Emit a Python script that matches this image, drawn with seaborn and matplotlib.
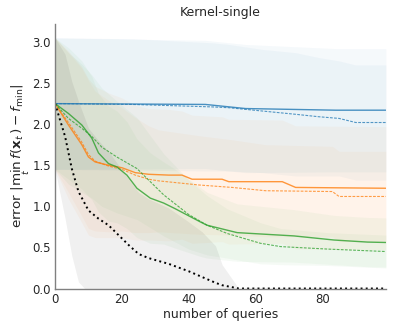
import numpy as np
import pandas as pd
import matplotlib
matplotlib.use("Agg")
import matplotlib.pyplot as plt
import seaborn as sns

# punkty (x = liczba zapytan)
black_x = [0, 3, 5, 7, 10, 13, 16, 19, 22, 25, 28, 34, 40, 44, 48, 50, 55, 99]
black_y = [2.25, 1.85, 1.46, 1.18, 0.95, 0.85, 0.77, 0.65, 0.53, 0.42, 0.37, 0.30, 0.21, 0.14, 0.07, 0.04, 0.0, 0.0]
black_sd = [0.8, 1.0, 1.06, 1.1, 1.0, 0.95, 0.9, 0.85, 0.8, 0.75, 0.72, 0.68, 0.6, 0.55, 0.45, 0.25, 0.0, 0.0]

blue_x = [0, 45, 57, 84, 99]
blue_y = [2.25, 2.24, 2.19, 2.17, 2.17]
blue_sd = [0.8, 0.78, 0.78, 0.75, 0.75]

blue2_x = [0, 23, 47, 52, 62, 72, 79, 85, 90, 99]
blue2_y = [2.25, 2.24, 2.21, 2.20, 2.16, 2.12, 2.09, 2.07, 2.02, 2.02]
blue2_sd = [0.8, 0.8, 0.78, 0.77, 0.75, 0.75, 0.72, 0.7, 0.7, 0.7]

orange_x = [0, 4, 8, 10, 12, 16, 20, 24, 28, 34, 38, 41, 50, 52, 68, 72, 99]
orange_y = [2.25, 1.99, 1.75, 1.60, 1.54, 1.50, 1.47, 1.41, 1.39, 1.38, 1.38, 1.33, 1.33, 1.30, 1.30, 1.23, 1.22]
orange_sd = [0.8, 0.9, 0.95, 0.95, 0.92, 0.88, 0.85, 0.82, 0.8, 0.8, 0.78, 0.78, 0.76, 0.76, 0.75, 0.75, 0.75]

orange2_x = [0, 4, 8, 10, 12, 16, 20, 24, 28, 31, 43, 53, 63, 83, 85, 99]
orange2_y = [2.25, 2.02, 1.78, 1.63, 1.55, 1.49, 1.45, 1.38, 1.33, 1.31, 1.26, 1.23, 1.19, 1.18, 1.12, 1.12]
orange2_sd = [0.8, 0.85, 0.9, 0.9, 0.85, 0.8, 0.75, 0.7, 0.65, 0.62, 0.6, 0.58, 0.56, 0.55, 0.55, 0.55]

green_x = [0, 4, 8, 11, 13, 16, 18.5, 21.5, 24.5, 28.5, 32.5, 36, 43.5, 45.5, 54.5, 71.5, 83.5, 93.5, 99]
green_y = [2.25, 2.13, 1.99, 1.83, 1.65, 1.52, 1.48, 1.38, 1.22, 1.10, 1.04, 0.97, 0.81, 0.77, 0.68, 0.64, 0.59, 0.565, 0.56]
green_sd = [0.8, 0.8, 0.78, 0.75, 0.72, 0.7, 0.68, 0.65, 0.6, 0.55, 0.5, 0.48, 0.42, 0.4, 0.35, 0.32, 0.3, 0.3, 0.3]

green2_x = [0, 4, 8, 11, 14, 18.5, 24.5, 28.5, 32.5, 40, 45.5, 51.5, 61.5, 67.5, 81.5, 99]
green2_y = [2.25, 2.07, 1.95, 1.85, 1.72, 1.60, 1.46, 1.30, 1.14, 0.90, 0.77, 0.67, 0.55, 0.51, 0.48, 0.45]
green2_sd = [0.8, 0.8, 0.78, 0.75, 0.72, 0.68, 0.62, 0.56, 0.5, 0.42, 0.36, 0.3, 0.25, 0.22, 0.2, 0.2]

x_ticks = [0, 20, 40, 60, 80]
y_ticks = [0.0, 0.5, 1.0, 1.5, 2.0, 2.5, 3.0]

sns.set_style("white")
plt.rcParams["font.family"] = ["DejaVu Sans"]
plt.rcParams["text.color"] = ".15"
plt.rcParams["axes.labelcolor"] = ".15"
plt.rcParams["xtick.color"] = ".15"
plt.rcParams["ytick.color"] = ".15"

fig, ax = plt.subplots(figsize=(3.99, 3.32), dpi=100)
fig.subplots_adjust(left=0.138, right=0.967, bottom=0.131, top=0.928)

series = [
    (blue_x, blue_y, blue_sd, "#1f77b4", "-"),
    (blue2_x, blue2_y, blue2_sd, "#1f77b4", "--"),
    (orange_x, orange_y, orange_sd, "#ff7f0e", "-"),
    (orange2_x, orange2_y, orange2_sd, "#ff7f0e", "--"),
    (green_x, green_y, green_sd, "#2ca02c", "-"),
    (green2_x, green2_y, green2_sd, "#2ca02c", "--"),
    (black_x, black_y, black_sd, "#000000", ":"),
]

# pasma (srednia +- odchylenie)
for xs, ys, sd, col, ls in series:
    xs = np.array(xs)
    ys = np.array(ys)
    sd = np.array(sd)
    a = 0.06 if ls == ":" else 0.045
    ax.fill_between(xs, ys - sd, ys + sd, color=col, alpha=a, linewidth=0)

# linie
for xs, ys, sd, col, ls in series:
    df = pd.DataFrame({"x": xs, "y": ys})
    if ls == ":":
        sns.lineplot(data=df, x="x", y="y", ax=ax, color="black", linestyle=":", linewidth=1.4)
    elif ls == "--":
        sns.lineplot(data=df, x="x", y="y", ax=ax, color=col, linewidth=0.8, alpha=0.75,
                     dashes=False, linestyle=(0, (2.5, 1.2)))
    else:
        sns.lineplot(data=df, x="x", y="y", ax=ax, color=col, linewidth=1.0, alpha=0.8)

ax.set_xlim(0, 99)
ax.set_ylim(0, 3.22)
ax.set_xticks(x_ticks)
ax.set_yticks(y_ticks)
ax.tick_params(labelsize=8.5, length=0, pad=3)
ax.set_xlabel("number of queries", fontsize=9, labelpad=1.5)
ax.set_ylabel(r"error $|\min_t\, f(\mathbf{x}_t) - f_{\min}|$", fontsize=9.7, labelpad=0)
ax.set_title("Kernel-single", fontsize=9)
sns.despine(ax=ax)
for s in ["left", "bottom"]:
    ax.spines[s].set_color("0.5")
    ax.spines[s].set_linewidth(1.0)

fig.savefig("out.png", dpi=100)
